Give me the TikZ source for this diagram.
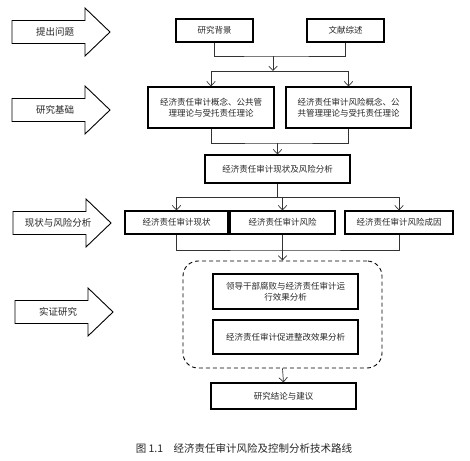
\documentclass[tikz,border=0pt]{standalone}
\usepackage{fontspec}
\setmainfont{Noto Sans CJK SC}
\usetikzlibrary{calc}
\usetikzlibrary{arrows.meta}

\begin{document}
\begin{tikzpicture} [x=1pt, y=-1pt,
  box/.style={draw=black, line width=1.1pt, align=center, inner sep=0pt, text=black!85, font=\fontsize{8.5}{11}\selectfont},
  link/.style={black!80, line width=.7pt},
  tip/.style={link, -{Straight Barb[length=4.5pt,width=8.5pt]}},
  stagearrow/.style={draw=black, line width=.9pt, fill=white}]
\useasboundingbox (0,0) rectangle (470,460);
% left stage arrows
\foreach \y/\dx/\tx/\txt [count=\i] in {32/0/55/提出问题, 110/0/55/研究基础, 223/1/58/现状与风险分析, 312/3/58/实证研究} {
 \draw[stagearrow] (12+\dx,\y-11.5) -- (85+\dx,\y-11.5) -- (85+\dx,\y-24) -- (110+\dx,\y)
   -- (85+\dx,\y+24) -- (85+\dx,\y+11.5) -- (12+\dx,\y+11.5) -- cycle;
 \node[text=black!85, font=\fontsize{9.5}{11}\selectfont] (stage\i) at (\tx,\y) {\txt};
}
% boxes
\node[box, minimum width=77, minimum height=23] (bg) at (214.5,30.5) {研究背景};
\node[box, minimum width=77, minimum height=23] (wx) at (345.5,30.5) {文献综述};
\node[box, minimum width=126, minimum height=41] (gn1) at (211,107.5) {经济责任审计概念、公共管\\理理论与受托责任理论};
\node[box, minimum width=125, minimum height=41] (gn2) at (348.5,107.5) {经济责任审计风险概念、公\\共管理理论与受托责任理论};
\node[box, minimum width=145, minimum height=28] (xz) at (277.5,169) {经济责任审计现状及风险分析};
\node[box, minimum width=103, minimum height=23] (r1) at (176.5,222.5) {经济责任审计现状};
\node[box, minimum width=105, minimum height=23] (r2) at (282.5,222.5) {经济责任审计风险};
\node[box, minimum width=108, minimum height=23] (r3) at (399,222.5) {经济责任审计风险成因};
\node[draw, dash pattern=on 4pt off 3pt, line width=.9pt, rounded corners=15, minimum width=199, minimum height=107] (sz) at (282.5,314.5) {};
\node[box, minimum width=145, minimum height=35] (e1) at (285.5,291.5) {领导干部腐败与经济责任审计运\\行效果分析};
\node[box, minimum width=145, minimum height=34] (e2) at (285.5,337) {经济责任审计促进整改效果分析};
\node[box, minimum width=145, minimum height=26] (jl) at (283.5,396) {研究结论与建议};
% connectors
\coordinate (j1) at (273,56);
\coordinate (s1) at (273,71);
\draw[link] (bg.south) |- (j1) -| (wx.south);
\draw[tip] (j1) -- (s1);
\draw[tip] (s1) -| (gn1.north);
\draw[tip] (s1) -| (gn2.north);
\coordinate (j2) at (277.5,143);
\draw[link] (gn1.south) |- (j2) -| (gn2.south);
\draw[tip] (j2) -- (xz.north);
\coordinate (s3) at (277.5,197);
\draw[link] (xz.south) -- (s3);
\draw[tip] (s3) -| (r1.north);
\draw[tip] (s3) -| (r2.north);
\draw[tip] (s3) -| (r3.north);
\coordinate (j4) at (282.5,250);
\draw[link] (r1.south) |- (j4) -| (r3.south);
\draw[link] (r2.south) -- (j4);
\draw[tip] (j4) -- (sz.north);
\draw[tip] (sz.south) -- (jl.north);
% caption
\node[text=black!85, font=\fontsize{10.5}{12}\selectfont] (cap) at (244,448) {图 1.1\quad 经济责任审计风险及控制分析技术路线};
\end{tikzpicture}
\end{document}
